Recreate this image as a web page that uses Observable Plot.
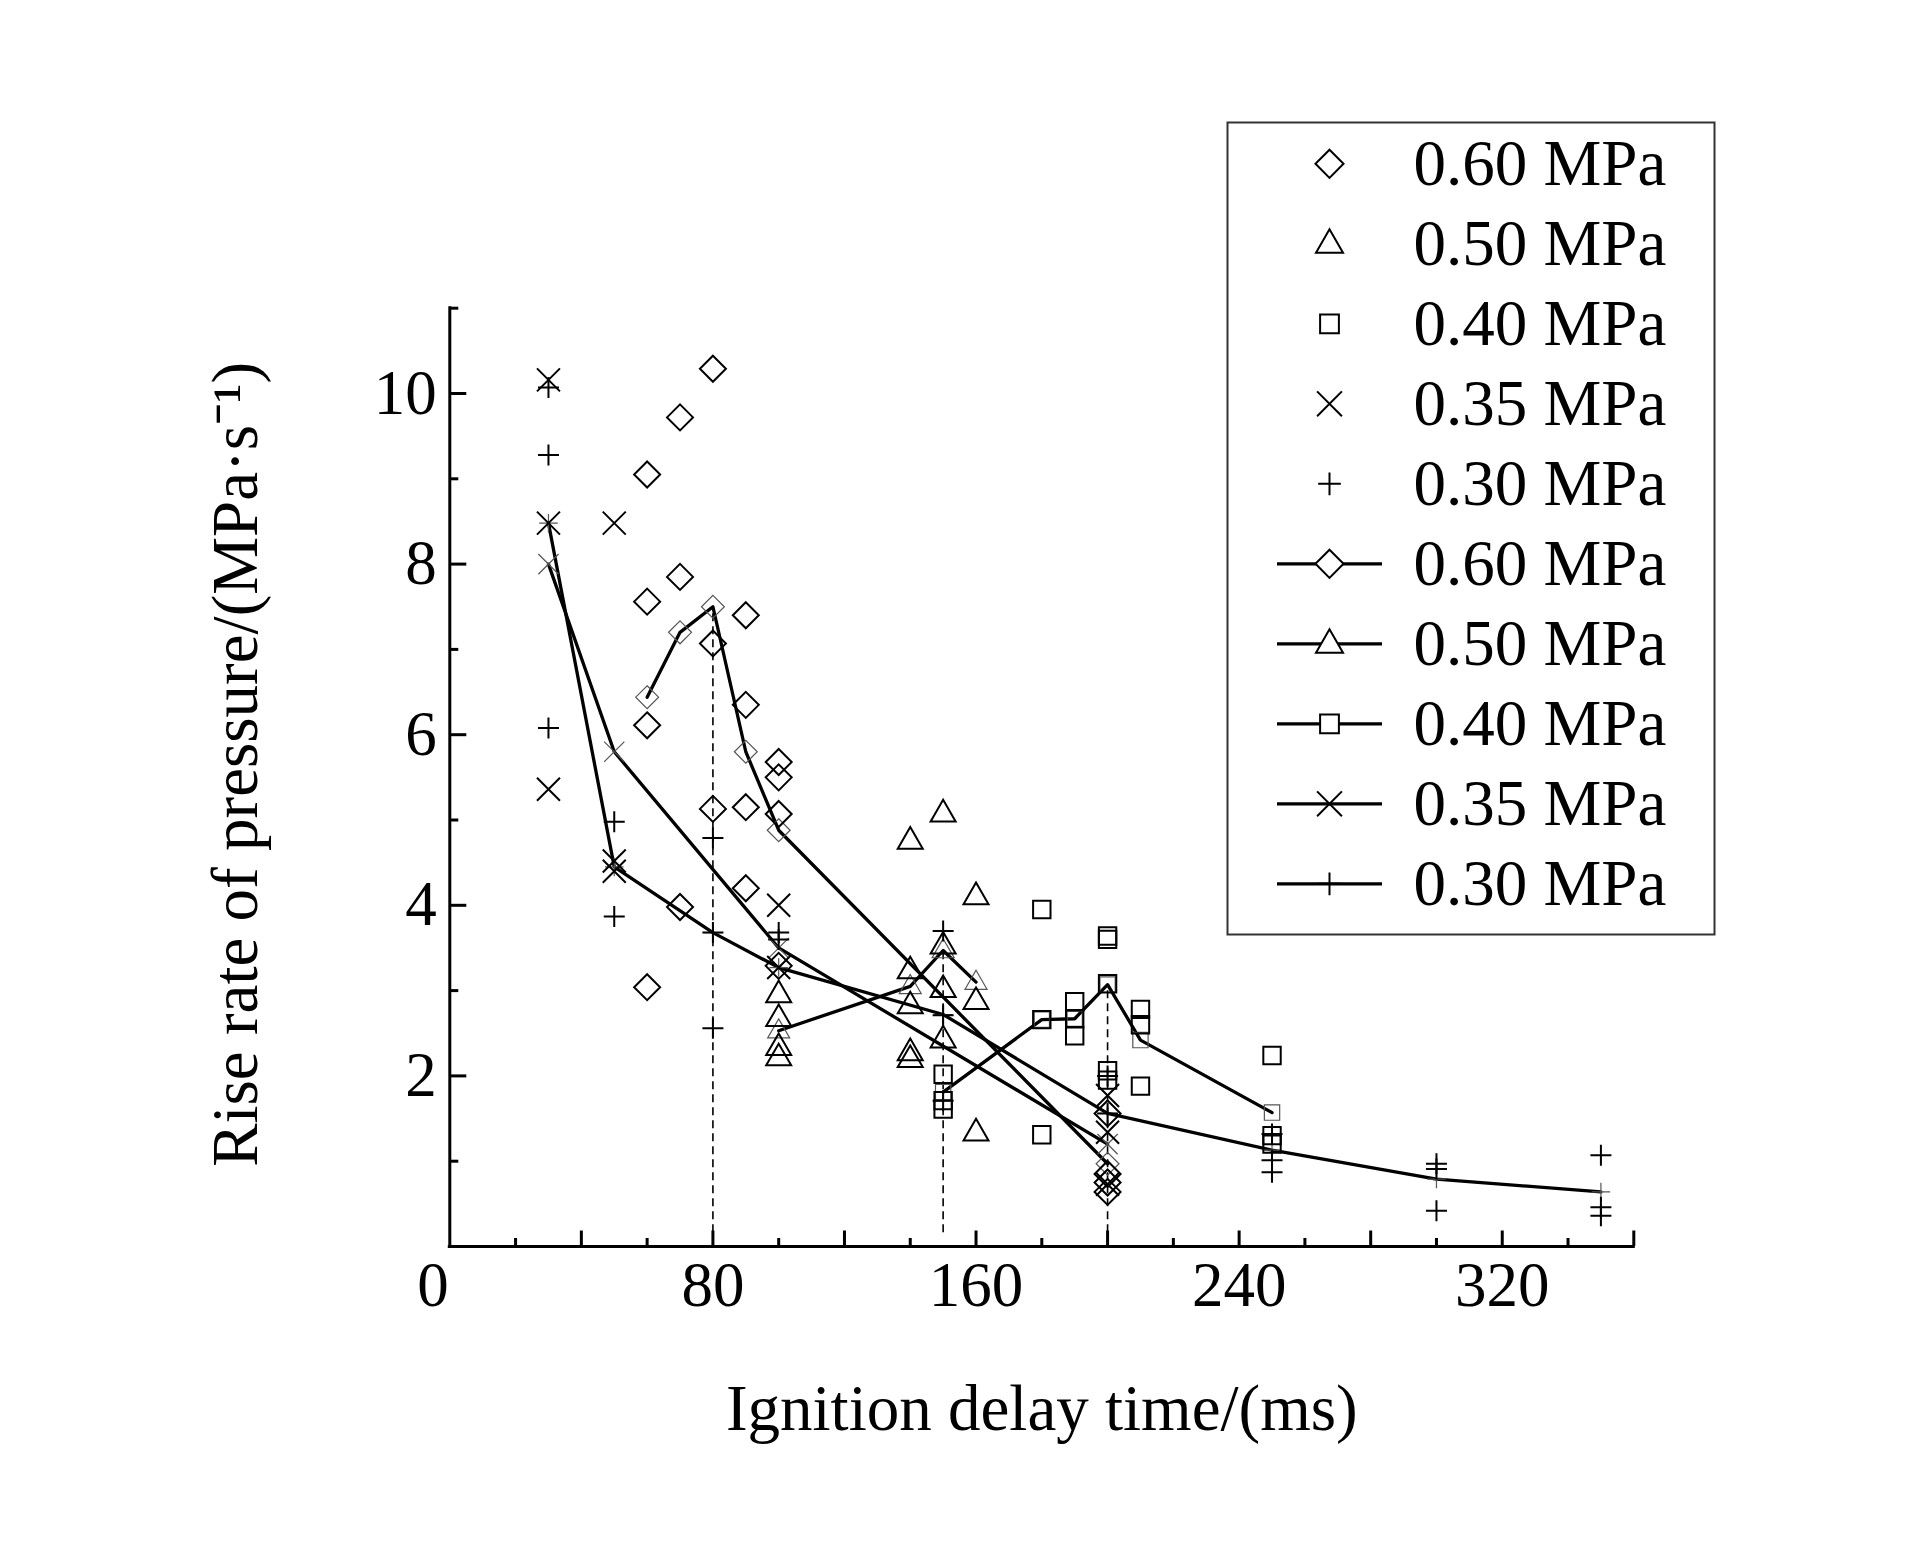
<!DOCTYPE html>
<html>
<head>
<meta charset="utf-8">
<script src="https://cdn.jsdelivr.net/npm/d3@7"></script>
<script src="https://cdn.jsdelivr.net/npm/@observablehq/plot@0.6"></script>
<style>
  html, body { margin: 0; padding: 0; background: #fff; }
</style>
</head>
<body>
<div id="chart"></div>
<script>
// ---------- data ----------
const seriesLabels = ["0.60 MPa", "0.50 MPa", "0.40 MPa", "0.35 MPa", "0.30 MPa"];

// scatter points [ignition delay (ms), rise rate (MPa/s)]
const pts060 = [[60,9.05],[60,7.56],[60,6.11],[60,3.04],[70,9.72],[70,7.85],[70,3.98],
  [80,10.29],[80,7.07],[80,5.13],[90,7.40],[90,6.35],[90,5.15],[90,4.20],
  [100,5.68],[100,5.50],[100,5.07],[100,3.29],[200,1.56],[200,0.85],[200,0.75],[200,0.64]];
const pts050 = [[100,2.96],[100,2.68],[100,2.34],[100,2.22],
  [140,4.76],[140,3.24],[140,2.83],[140,2.28],[140,2.20],
  [150,5.08],[150,3.53],[150,3.02],[150,2.43],[160,4.11],[160,2.88],[160,1.34]];
const pts040 = [[150,2.02],[150,1.71],[150,1.61],[180,3.95],[180,2.66],[180,1.31],
  [190,2.87],[190,2.67],[190,2.47],[200,3.64],[200,3.60],[200,3.08],[200,2.06],[200,1.95],
  [210,2.78],[210,2.60],[210,1.88],[250,2.24],[250,1.30],[250,1.20]];
const pts035 = [[30,10.16],[30,8.48],[30,5.36],[50,8.48],[50,4.52],[50,4.40],
  [100,4.00],[100,3.27],[200,1.77],[200,1.34],[200,0.73]];
const pts030 = [[30,10.07],[30,9.28],[30,6.08],[50,4.98],[50,3.87],[80,4.79],[80,3.68],[80,2.56],
  [100,3.68],[100,3.60],[150,3.70],[150,2.71],[150,1.71],[200,2.00],[200,1.56],
  [250,1.32],[250,1.01],[250,0.87],[300,0.97],[300,0.91],[300,0.42],[350,1.07],[350,0.46],[350,0.36]];

// mean lines
const line060 = [[60,6.44],[70,7.20],[80,7.50],[90,5.80],[100,4.88],[200,0.97]];
const line050 = [[100,2.53],[140,3.05],[150,3.47],[160,3.10]];
const line040 = [[150,1.81],[180,2.66],[190,2.67],[200,3.07],[210,2.42],[250,1.57]];
const line035 = [[30,8.00],[50,5.80],[100,3.50],[200,1.20]];
const line030 = [[30,8.48],[50,4.45],[80,3.68],[100,3.27],[150,2.72],[200,1.56],[250,1.13],[300,0.79],[350,0.64]];

// peaks marked with dashed drop lines
const peaks = [[80,7.50],[150,3.47],[200,3.07]];

// axis ticks
const xTickLabels = [80, 160, 240, 320];
const xMajorTicks = [40, 80, 120, 160, 200, 240, 280, 320, 360];
const xMinorTicks = [20, 60, 100, 140, 180, 220, 260, 300, 340];
const yTickLabels = [2, 4, 6, 8, 10];
const yMinorTicks = [1, 3, 5, 7, 9, 11];

// ---------- layout ----------
const W = 1923, H = 1559;
const mL = 449.3, mR = 289.7, mT = 307.7, mB = 313;
const frameW = W - mL - mR, frameH = H - mT - mB;
const FONT = "'Liberation Serif', 'Times New Roman', Times, serif";

// ---------- symbols ----------
const rad = (size) => Math.sqrt(size / Math.PI);
const symDiamond = {draw(c, s) { const r = rad(s); c.moveTo(0, -r); c.lineTo(r, 0); c.lineTo(0, r); c.lineTo(-r, 0); c.closePath(); }};
const symTriangle = {draw(c, s) { const r = rad(s); const h = r * Math.sqrt(3); c.moveTo(0, -h * 0.62); c.lineTo(r, h * 0.38); c.lineTo(-r, h * 0.38); c.closePath(); }};
const symSquare = {draw(c, s) { const r = rad(s); c.moveTo(-r, -r); c.lineTo(r, -r); c.lineTo(r, r); c.lineTo(-r, r); c.closePath(); }};
const symTimes = {draw(c, s) { const r = rad(s); c.moveTo(-r, -r); c.lineTo(r, r); c.moveTo(r, -r); c.lineTo(-r, r); }};
const symPlus = {draw(c, s) { const r = rad(s); c.moveTo(-r, 0); c.lineTo(r, 0); c.moveTo(0, -r); c.lineTo(0, r); }};
const symHLine = {draw(c, s) { const r = rad(s); c.moveTo(-r, 0); c.lineTo(r, 0); }};

const symbols = [symDiamond, symTriangle, symSquare, symTimes, symPlus];
const radii = [13, 12.5, 8.7, 11.5, 10.5];
const scatterSets = [pts060, pts050, pts040, pts035, pts030];
const lineSets = [line060, line050, line040, line035, line030];

const X = d => d[0], Y = d => d[1];

const marks = [];

// dashed drop lines
marks.push(Plot.ruleX(peaks, {x: X, y1: () => 0.16, y2: Y, stroke: "#000", strokeWidth: 1.6, strokeDasharray: "8,5"}));

// mean lines
lineSets.forEach((ls) => {
  marks.push(Plot.line(ls, {x: X, y: Y, stroke: "#000", strokeWidth: 3.3, strokeLinejoin: "round"}));
});
// thin vertex markers on the lines
lineSets.forEach((ls, i) => {
  marks.push(Plot.dot(ls, {x: X, y: Y, symbol: symbols[i], r: radii[i] * 0.88, stroke: "#555", strokeWidth: 1.2, fill: "none"}));
});
// scatter points
scatterSets.forEach((ps, i) => {
  marks.push(Plot.dot(ps, {x: X, y: Y, symbol: symbols[i], r: radii[i], stroke: "#000", strokeWidth: 2, fill: "none"}));
});

// axis lines
marks.push(Plot.ruleX([0], {x: d => d, y1: () => 0, y2: () => 11, stroke: "#000", strokeWidth: 3, strokeLinecap: "square"}));
marks.push(Plot.ruleY([0], {y: d => d, x1: () => 0, x2: () => 360, stroke: "#000", strokeWidth: 3, strokeLinecap: "square"}));
// inward ticks
marks.push(Plot.tickY(yTickLabels, {y: d => d, insetRight: frameW - 17, stroke: "#000", strokeWidth: 3}));
marks.push(Plot.tickY(yMinorTicks, {y: d => d, insetRight: frameW - 9, stroke: "#000", strokeWidth: 3}));
marks.push(Plot.tickX(xMajorTicks, {x: d => d, insetTop: frameH - 15.5, stroke: "#000", strokeWidth: 3}));
marks.push(Plot.tickX(xMinorTicks, {x: d => d, insetTop: frameH - 8, stroke: "#000", strokeWidth: 3}));

// tick labels
marks.push(Plot.axisX({ticks: xTickLabels, tickSize: 0, tickPadding: 15, fontSize: 63, label: null}));
marks.push(Plot.axisY({ticks: yTickLabels, tickSize: 0, tickPadding: 13, fontSize: 63, label: null}));
marks.push(Plot.text([0], {x: () => 0, y: () => 0, text: d => String(d), textAnchor: "end", lineAnchor: "top", dx: -1, dy: 15, fontSize: 63, fill: "#000"}));

// axis titles
marks.push(Plot.text(["Ignition delay time/(ms)"], {frameAnchor: "bottom", text: d => d, dy: 163, lineAnchor: "middle", textAnchor: "middle", fontSize: 65, fill: "#000"}));
marks.push(Plot.text(["Rise rate of pressure/(MPa\u00B7s\u207B\u00B9)"], {frameAnchor: "left", text: d => d, rotate: -90, dx: -213.6, dy: -13, lineAnchor: "middle", textAnchor: "middle", fontSize: 65, fill: "#000"}));

// legend box
marks.push(Plot.frame({stroke: "#333", strokeWidth: 2, fill: "none",
  insetLeft: 1227 - mL, insetTop: 122 - mT, insetRight: (W - mR) - 1714, insetBottom: (H - mB) - 934}));

// legend entries
const legSymX = 1329 - mL, legTextX = 1413 - mL;
for (let i = 0; i < 10; i++) {
  const k = i % 5;
  const dy = 163.3 + 80 * i - mT;
  if (i >= 5) {
    marks.push(Plot.dot([0], {frameAnchor: "top-left", dx: legSymX, dy, symbol: symHLine, r: 52.5, stroke: "#000", strokeWidth: 3.3}));
  }
  marks.push(Plot.dot([0], {frameAnchor: "top-left", dx: legSymX, dy, symbol: symbols[k], r: radii[k] * 1.08, stroke: "#000", strokeWidth: 2, fill: i >= 5 ? "white" : "none"}));
  marks.push(Plot.text([seriesLabels[k]], {frameAnchor: "top-left", dx: legTextX, dy, text: d => d, textAnchor: "start", lineAnchor: "middle", fontSize: 65, fill: "#000"}));
}

const chart = Plot.plot({
  width: W, height: H,
  marginLeft: mL, marginRight: mR, marginTop: mT, marginBottom: mB,
  x: {domain: [0, 360]},
  y: {domain: [0, 11]},
  style: {fontFamily: FONT, background: "#fff", color: "#000", overflow: "visible"},
  marks
});
document.getElementById("chart").appendChild(chart);
</script>
</body>
</html>
